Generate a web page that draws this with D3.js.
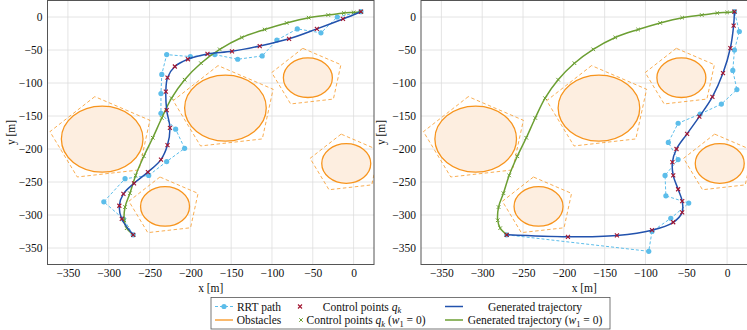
<!DOCTYPE html>
<html>
<head>
<meta charset="utf-8">
<script src="https://cdn.jsdelivr.net/npm/d3@7"></script>
<style>
  body { margin: 0; background: #fff; }
  svg text { font-family: "Liberation Serif", "Times New Roman", serif !important; }
</style>
</head>
<body>
<div id="graph"></div>
<script>
// axis ticks (both axes, both panels)
const ticks = [-350, -300, -250, -200, -150, -100, -50, 0]

// obstacles: centre and radius in metres
const obstacleX = [-308, -157, -56, -9, -231]
const obstacleY = [-185, -138, -92, -222, -287]
const obstacleR = [50, 50, 30, 30, 30]

// left panel
const rrtLeft = [[-270, -330], [-282, -306], [-306, -280], [-280, -245], [-251, -240], [-229, -219],
  [-207, -199], [-218, -170], [-236, -146], [-236, -116], [-235, -87], [-229, -57], [-200, -60],
  [-170, -57], [-142, -64], [-112, -59], [-94, -35], [-69, -18], [-40, -24], [-20, 0], [9, 8]]
const ctrlLeft = [[-270, -330], [-284, -306], [-287, -286], [-282, -268], [-269, -252], [-252, -235],
  [-236, -216], [-228, -194], [-225, -168], [-229, -141], [-230, -113], [-228, -92], [-219, -75],
  [-203, -64], [-179, -56], [-149, -52], [-115, -44], [-79, -33], [-45, -18], [-13, -3], [9, 8]]

// right panel
const rrtRight = [[-270, -330], [-96, -355], [-92, -325], [-69, -305], [-47, -282], [-75, -271],
  [-76, -240], [-60, -216], [-72, -190], [-60, -161], [-33, -147], [-7, -132], [12, -110],
  [7, -81], [9, -50], [15, -22], [9, 8]]
const ctrlRight = [[-270, -330], [-195, -333], [-135, -331], [-92, -323], [-66, -311], [-55, -296],
  [-55, -279], [-60, -261], [-66, -240], [-67, -220], [-62, -200], [-49, -177], [-34, -151],
  [-18, -121], [-5, -85], [4, -47], [8, -13], [9, 8]]

// w1 = 0 solution (same in both panels)
const ctrlW0 = [[-270, -330], [-278, -320], [-281, -308], [-280, -288], [-274, -267], [-267, -240],
  [-257, -211], [-246, -183], [-235, -153], [-223, -123], [-207, -95], [-187, -70], [-164, -49],
  [-137, -31], [-109, -19], [-82, -9], [-55, -1], [-31, 3], [-12, 6], [0, 7], [9, 8]]

const c = {
  rrt: '#5cbdea', ctrl: '#a2142f', traj: '#2252ad', w0: '#6c9f33',
  obst: '#f7941d', fill: '#fdeee0', grid: '#dddddd', frame: '#555'
}

const W = 747, H = 330
const panelW = 326.5, panelH = 264
const panels = [
  {x0: 47.5, rrt: rrtLeft, ctrl: ctrlLeft},
  {x0: 421, rrt: rrtRight, ctrl: ctrlRight}
]

const x = d3.scaleLinear().domain([-375, 25]).range([0, panelW])
const y = d3.scaleLinear().domain([-375, 25]).range([panelH, 0])

const svg = d3.select('#graph').append('svg')
  .attr('width', W)
  .attr('height', H)
  .style('display', 'block')

svg.append('defs').append('clipPath').attr('id', 'clip')
  .append('rect').attr('width', panelW).attr('height', panelH)

const line = d3.line().x(d => x(d[0])).y(d => y(d[1]))
const smooth = d3.line().x(d => x(d[0])).y(d => y(d[1])).curve(d3.curveCatmullRom.alpha(0.5))
const cross = s => `M${-s},${-s}L${s},${s}M${-s},${s}L${s},${-s}`

const obstacles = obstacleX.map((ox, i) => ({x: ox, y: obstacleY[i], r: obstacleR[i]}))

panels.forEach(p => {
  const g = svg.append('g').attr('transform', `translate(${p.x0},0.5)`)

  // grid
  g.append('g').selectAll('line').data(ticks).join('line')
    .attr('x1', d => x(d)).attr('x2', d => x(d))
    .attr('y1', 0).attr('y2', panelH)
    .attr('stroke', c.grid).attr('stroke-width', 0.8)
  g.append('g').selectAll('line').data(ticks).join('line')
    .attr('y1', d => y(d)).attr('y2', d => y(d))
    .attr('x1', 0).attr('x2', panelW)
    .attr('stroke', c.grid).attr('stroke-width', 0.8)

  const plot = g.append('g').attr('clip-path', 'url(#clip)')

  // obstacle pentagons (dashed) and circles
  plot.selectAll('polygon').data(obstacles).join('polygon')
    .attr('points', o => d3.range(5).map(k => {
      const a = (98 + 72 * k) * Math.PI / 180
      const R = o.r + 15
      return [x(o.x + R * Math.cos(a)), y(o.y + R * Math.sin(a))].join(',')
    }).join(' '))
    .attr('fill', 'none').attr('stroke', c.obst).attr('stroke-opacity', 0.85)
    .attr('stroke-width', 0.9).attr('stroke-dasharray', '3.5,2.5')
  plot.selectAll('ellipse').data(obstacles).join('ellipse')
    .attr('cx', o => x(o.x)).attr('cy', o => y(o.y))
    .attr('rx', o => x(o.r) - x(0)).attr('ry', o => y(0) - y(o.r))
    .attr('fill', c.fill).attr('stroke', c.obst).attr('stroke-width', 1.3)

  // RRT path
  plot.append('path').datum(p.rrt).attr('d', line)
    .attr('fill', 'none').attr('stroke', c.rrt).attr('stroke-width', 1)
    .attr('stroke-dasharray', '3,2')
  plot.selectAll('circle.rrt').data(p.rrt).join('circle').attr('class', 'rrt')
    .attr('cx', d => x(d[0])).attr('cy', d => y(d[1])).attr('r', 2.6)
    .attr('fill', c.rrt)

  // w1 = 0 trajectory
  plot.append('path').datum(ctrlW0).attr('d', smooth)
    .attr('fill', 'none').attr('stroke', c.w0).attr('stroke-width', 1.5)
  plot.selectAll('path.w0').data(ctrlW0).join('path').attr('class', 'w0')
    .attr('transform', d => `translate(${x(d[0])},${y(d[1])})`)
    .attr('d', cross(1.8)).attr('stroke', c.w0).attr('stroke-width', 1).attr('fill', 'none')

  // generated trajectory
  plot.append('path').datum(p.ctrl).attr('d', smooth)
    .attr('fill', 'none').attr('stroke', c.traj).attr('stroke-width', 1.5)
  plot.selectAll('path.ctrl').data(p.ctrl).join('path').attr('class', 'ctrl')
    .attr('transform', d => `translate(${x(d[0])},${y(d[1])})`)
    .attr('d', cross(2)).attr('stroke', c.ctrl).attr('stroke-width', 1.1).attr('fill', 'none')

  // frame
  g.append('rect').attr('width', panelW).attr('height', panelH)
    .attr('fill', 'none').attr('stroke', c.frame).attr('stroke-width', 1)

  // axes
  const xAxis = g.append('g').attr('transform', `translate(0,${panelH})`)
    .call(d3.axisBottom(x).tickValues(ticks).tickSize(0).tickPadding(4))
  const yAxis = g.append('g')
    .call(d3.axisLeft(y).tickValues(ticks).tickSize(0).tickPadding(5))
  ;[xAxis, yAxis].forEach(a => {
    a.attr('font-family', null).attr('font-size', null)
    a.select('.domain').remove()
    a.selectAll('text').attr('font-size', 11.5).attr('fill', '#111')
  })

  g.append('text').attr('x', panelW / 2).attr('y', 291)
    .attr('text-anchor', 'middle').attr('font-size', 11.5).attr('fill', '#111')
    .text('x [m]')
  g.append('text')
    .attr('transform', `translate(${p.x0 > 100 ? -36 : -33},${panelH / 2}) rotate(-90)`)
    .attr('text-anchor', 'middle').attr('font-size', 11.5).attr('fill', '#111')
    .text('y [m]')
})

// legend
const lg = svg.append('g')
lg.append('rect').attr('x', 211).attr('y', 297.5).attr('width', 399).attr('height', 31.5)
  .attr('fill', '#fff').attr('stroke', '#555').attr('stroke-width', 0.8)

const rows = [306.5, 320]
const fs = 11.5
const addText = (cx, cy) => lg.append('text').attr('x', cx).attr('y', cy + 4)
  .attr('text-anchor', 'middle').attr('font-size', fs).attr('fill', '#111')

// row 1
lg.append('line').attr('x1', 215).attr('x2', 233).attr('y1', rows[0]).attr('y2', rows[0])
  .attr('stroke', c.rrt).attr('stroke-dasharray', '3,2')
lg.append('circle').attr('cx', 224).attr('cy', rows[0]).attr('r', 2.6).attr('fill', c.rrt)
addText(259, rows[0]).text('RRT path')

lg.append('path').attr('transform', `translate(300,${rows[0]})`).attr('d', cross(2))
  .attr('stroke', c.ctrl).attr('stroke-width', 1.1)
const t1 = addText(362, rows[0])
t1.append('tspan').text('Control points ')
t1.append('tspan').attr('font-style', 'italic').text('q')
t1.append('tspan').attr('font-style', 'italic').attr('font-size', 8.5).attr('dy', 2.5).text('k')

lg.append('line').attr('x1', 445).attr('x2', 463).attr('y1', rows[0]).attr('y2', rows[0])
  .attr('stroke', c.traj).attr('stroke-width', 1.5)
addText(535, rows[0]).text('Generated trajectory')

// row 2
lg.append('line').attr('x1', 215).attr('x2', 233).attr('y1', rows[1]).attr('y2', rows[1])
  .attr('stroke', c.obst).attr('stroke-width', 1.3)
addText(259, rows[1]).text('Obstacles')

lg.append('path').attr('transform', `translate(301,${rows[1]})`).attr('d', cross(1.8))
  .attr('stroke', c.w0).attr('stroke-width', 1)
const t2 = addText(366, rows[1])
t2.append('tspan').text('Control points ')
t2.append('tspan').attr('font-style', 'italic').text('q')
t2.append('tspan').attr('font-style', 'italic').attr('font-size', 8.5).attr('dy', 2.5).text('k')
t2.append('tspan').attr('dy', -2.5).text(' (')
t2.append('tspan').attr('font-style', 'italic').text('w')
t2.append('tspan').attr('font-size', 8.5).attr('dy', 2.5).text('1')
t2.append('tspan').attr('dy', -2.5).text(' = 0)')

lg.append('line').attr('x1', 445).attr('x2', 463).attr('y1', rows[1]).attr('y2', rows[1])
  .attr('stroke', c.w0).attr('stroke-width', 1.5)
const t3 = addText(535, rows[1])
t3.append('tspan').text('Generated trajectory (')
t3.append('tspan').attr('font-style', 'italic').text('w')
t3.append('tspan').attr('font-size', 8.5).attr('dy', 2.5).text('1')
t3.append('tspan').attr('dy', -2.5).text(' = 0)')
</script>
</body>
</html>
